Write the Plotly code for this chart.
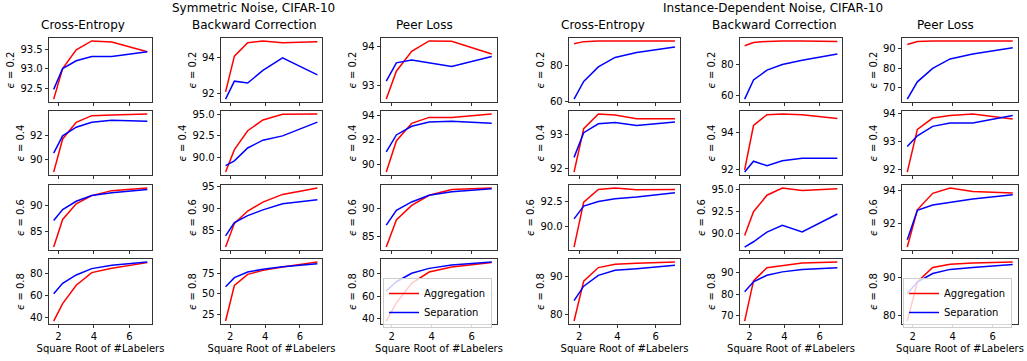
import plotly.graph_objects as go

# ---------------- data ----------------
SQRT_LABELERS = [1.732, 2.236, 3.0, 3.873, 5.0, 7.0]
X_TICKS = [2, 4, 6]
NOISE_LEVELS = ["0.2", "0.4", "0.6", "0.8"]
METHODS = ["Cross-Entropy", "Backward Correction", "Peer Loss",
           "Cross-Entropy", "Backward Correction", "Peer Loss"]
GROUP_TITLES = ["Symmetric Noise, CIFAR-10", "Instance-Dependent Noise, CIFAR-10"]
SERIES_NAMES = ["Aggregation", "Separation"]
X_LABEL = "Square Root of #Labelers"

# rows: epsilon = 0.2, 0.4, 0.6, 0.8
SYM_CE_AGG = [[92.22, 93.0, 93.48, 93.71, 93.68, 93.43],
              [89.0, 91.7, 93.06, 93.6, 93.65, 93.74],
              [81.9, 87.25, 90.27, 91.87, 92.83, 93.35],
              [37.0, 52.7, 69.2, 80.6, 84.5, 89.6]]
SYM_CE_SEP = [[92.47, 93.0, 93.2, 93.31, 93.31, 93.43],
              [90.54, 91.95, 92.66, 93.06, 93.22, 93.14],
              [87.06, 89.17, 90.77, 91.87, 92.4, 93.04],
              [61.5, 71.0, 78.5, 84.2, 87.2, 90.2]]
SYM_BC_AGG = [[92.1, 94.1, 94.85, 94.95, 94.85, 94.9],
              [88.3, 90.9, 93.1, 94.35, 95.0, 95.05],
              [81.3, 86.7, 89.5, 91.54, 93.3, 94.77],
              [16.4, 59.8, 73.4, 78.3, 82.4, 88.6]]
SYM_BC_SEP = [[91.7, 92.7, 92.6, 93.3, 94.0, 93.05],
              [89.05, 89.6, 91.1, 92.0, 92.5, 94.1],
              [83.85, 86.9, 88.46, 89.77, 91.15, 92.08],
              [58.2, 69.4, 76.3, 79.7, 82.8, 86.5]]
SYM_PL_AGG = [[92.67, 93.37, 93.87, 94.13, 94.12, 93.8],
              [89.4, 91.92, 93.34, 93.82, 93.82, 94.1],
              [83.0, 87.96, 90.6, 92.46, 93.5, 93.8],
              [37.8, 54.0, 71.3, 81.4, 86.0, 89.9]]
SYM_PL_SEP = [[93.12, 93.58, 93.65, 93.58, 93.49, 93.74],
              [91.04, 92.4, 93.1, 93.44, 93.5, 93.34],
              [87.0, 89.7, 91.24, 92.46, 93.1, 93.65],
              [64.5, 72.8, 80.3, 84.7, 87.7, 90.4]]
INS_CE_AGG = [[91.7, 92.9, 93.2, 93.3, 93.3, 93.3],
              [91.9, 93.17, 93.6, 93.57, 93.46, 93.46],
              [88.0, 92.4, 93.64, 93.78, 93.61, 93.64],
              [78.4, 88.7, 92.2, 93.05, 93.3, 93.65]]
INS_CE_SEP = [[61.3, 71.0, 79.0, 84.2, 86.9, 90.0],
              [92.33, 93.05, 93.31, 93.35, 93.26, 93.36],
              [90.76, 92.0, 92.46, 92.73, 92.9, 93.32],
              [83.65, 87.4, 90.2, 91.5, 91.9, 92.8]]
INS_BC_AGG = [[91.9, 94.0, 94.7, 95.0, 94.9, 94.7],
              [91.98, 94.35, 94.93, 94.97, 94.93, 94.72],
              [89.8, 92.5, 94.37, 95.19, 94.9, 95.1],
              [67.2, 86.2, 92.5, 93.6, 94.7, 95.2]]
INS_BC_SEP = [[58.0, 70.2, 76.4, 80.0, 82.7, 86.7],
              [91.86, 92.44, 92.2, 92.47, 92.6, 92.6],
              [88.5, 89.1, 90.2, 90.97, 90.2, 92.24],
              [81.1, 85.8, 88.9, 90.5, 91.6, 92.5]]
INS_PL_AGG = [[92.2, 93.7, 94.0, 94.0, 94.0, 94.0],
              [91.9, 93.44, 93.85, 93.94, 94.0, 93.82],
              [90.55, 92.83, 93.84, 94.17, 93.96, 93.86],
              [78.4, 88.9, 92.8, 93.7, 94.0, 94.3]]
INS_PL_SEP = [[64.3, 73.1, 80.0, 84.8, 87.3, 90.5],
              [92.82, 93.21, 93.55, 93.67, 93.67, 93.94],
              [91.0, 92.8, 93.12, 93.28, 93.49, 93.75],
              [85.8, 88.9, 91.2, 92.3, 92.8, 93.6]]

# y tick values per panel (rows x columns)
Y_TICKS = [
    [[92.5, 93.0, 93.5], [92, 94], [93, 94], [60, 80], [60, 80], [70, 80, 90]],
    [[90, 92], [90.0, 92.5, 95.0], [90, 92, 94], [92, 93], [92, 94], [92, 93, 94]],
    [[85, 90], [85, 90, 95], [85, 90], [90.0, 92.5], [90.0, 92.5, 95.0], [92, 94]],
    [[40, 60, 80], [25, 50, 75], [40, 60, 80], [80, 90], [70, 80, 90], [80, 90]],
]

AGG = [SYM_CE_AGG, SYM_BC_AGG, SYM_PL_AGG, INS_CE_AGG, INS_BC_AGG, INS_PL_AGG]
SEP = [SYM_CE_SEP, SYM_BC_SEP, SYM_PL_SEP, INS_CE_SEP, INS_BC_SEP, INS_PL_SEP]

# ---------------- geometry (pixels) ----------------
W, H = 1027, 361
ML, MR, MT, MB = 49, 9, 38, 37
PW, PH = W - ML - MR, H - MT - MB
COL_L = [49, 221, 381, 569, 740, 902]
COL_R = [152, 322, 497, 680, 842, 1018]
ROW_T = [38, 111, 185, 259]
ROW_B = [102, 175, 250, 324]
TITLE_X = [83, 254, 424, 603, 774, 945]
GROUP_X = [253, 773]


def fx(px):
    return (px - ML) / PW


def fy(py):
    return (H - MB - py) / PH


FONT = "DejaVu Sans"
RED, BLUE = "#ff0000", "#0000ff"

fig = go.Figure()
layout = {}

xmin, xmax = min(SQRT_LABELERS), max(SQRT_LABELERS)
xpad = 0.05 * (xmax - xmin)

for r in range(4):
    for c in range(6):
        k = r * 6 + c + 1
        xn = "x" if k == 1 else f"x{k}"
        yn = "y" if k == 1 else f"y{k}"
        agg = AGG[c][r]
        sep = SEP[c][r]
        show = (r == 3 and c in (2, 5))
        leg = "legend" if c == 2 else "legend2"
        fig.add_trace(go.Scatter(x=SQRT_LABELERS, y=agg, mode="lines", name=SERIES_NAMES[0],
                                 line=dict(color=RED, width=1.5), xaxis=xn, yaxis=yn,
                                 showlegend=show, legend=leg, hoverinfo="skip"))
        fig.add_trace(go.Scatter(x=SQRT_LABELERS, y=sep, mode="lines", name=SERIES_NAMES[1],
                                 line=dict(color=BLUE, width=1.5), xaxis=xn, yaxis=yn,
                                 showlegend=show, legend=leg, hoverinfo="skip"))
        vals = agg + sep
        lo, hi = min(vals), max(vals)
        pad = 0.05 * (hi - lo)
        ticks = Y_TICKS[r][c]
        dec = any(abs(t - round(t)) > 1e-9 for t in ticks)
        ttext = [f"{t:.1f}" if dec else f"{int(round(t))}" for t in ticks]
        common = dict(showline=True, mirror=True, linecolor="black", linewidth=0.8,
                      ticks="outside", ticklen=3.5, tickwidth=0.8, tickcolor="black",
                      showgrid=False, zeroline=False, automargin=False, fixedrange=True,
                      tickfont=dict(family=FONT, size=10, color="black"))
        xa = dict(common, domain=[fx(COL_L[c]), fx(COL_R[c])], anchor=yn,
                  range=[xmin - xpad, xmax + xpad], tickvals=X_TICKS,
                  showticklabels=(r == 3))
        if r == 3:
            xa["title"] = dict(text=X_LABEL, font=dict(family=FONT, size=10, color="black"), standoff=3)
        ya = dict(common, domain=[fy(ROW_B[r]), fy(ROW_T[r])], anchor=xn,
                  range=[lo - pad, hi + pad], tickvals=ticks, ticktext=ttext,
                  title=dict(text=f"<i>ϵ</i> = {NOISE_LEVELS[r]}",
                             font=dict(family=FONT, size=10, color="black"), standoff=3))
        layout["xaxis" if k == 1 else f"xaxis{k}"] = xa
        layout["yaxis" if k == 1 else f"yaxis{k}"] = ya

annotations = []
for c in range(6):
    annotations.append(dict(text=METHODS[c], x=fx(TITLE_X[c]), y=fy(25), xref="paper", yref="paper",
                            xanchor="center", yanchor="middle", showarrow=False,
                            font=dict(family=FONT, size=12, color="black")))
for g in range(2):
    annotations.append(dict(text=GROUP_TITLES[g], x=fx(GROUP_X[g]), y=fy(8), xref="paper", yref="paper",
                            xanchor="center", yanchor="middle", showarrow=False,
                            font=dict(family=FONT, size=12, color="black")))

legend_style = dict(font=dict(family=FONT, size=10, color="black"), bgcolor="rgba(255,255,255,0.8)",
                    bordercolor="#cccccc", borderwidth=1, xanchor="right", yanchor="middle",
                    xref="paper", yref="paper", tracegroupgap=0, itemwidth=30)

fig.update_layout(
    width=W, height=H, margin=dict(l=ML, r=MR, t=MT, b=MB),
    paper_bgcolor="white", plot_bgcolor="white",
    font=dict(family=FONT, size=10, color="black"),
    annotations=annotations,
    legend=dict(legend_style, x=fx(492), y=fy(303)),
    legend2=dict(legend_style, x=fx(1012), y=fy(303)),
    **layout,
)

fig.write_html("out.html", config={"displayModeBar": False, "staticPlot": True},
               post_script="document.body.style.margin='0';document.body.style.overflow='hidden';")
